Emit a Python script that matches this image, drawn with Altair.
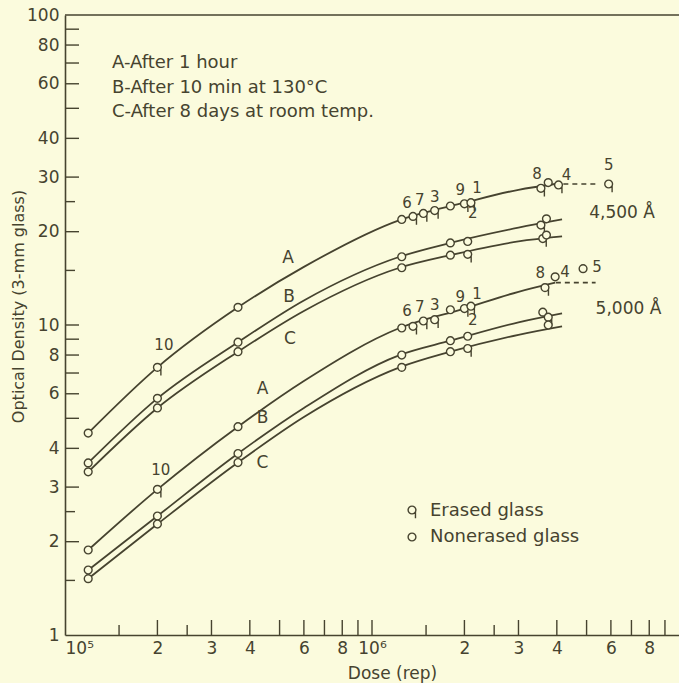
import altair as alt
import pandas as pd

BG = "#fbfbdd"
INK = "#46432f"
FONT = "DejaVu Sans"

# ---------------- data ----------------
curve_ids = ["4500A", "4500B", "4500C", "5000A", "5000B", "5000C"]
curve_dose_A = [1.19e5, 2.0e5, 3.66e5, 6.0e5, 1.23e6, 2.0e6, 3.0e6, 3.95e6]
curve_dose_BC = [1.19e5, 2.0e5, 3.66e5, 6.0e5, 1.23e6, 1.8e6, 3.0e6, 4.16e6]
od_4500A = [4.48, 7.3, 11.4, 15.4, 21.8, 24.8, 27.3, 28.5]
od_4500B = [3.59, 5.8, 8.8, 12.0, 16.6, 18.4, 20.6, 21.9]
od_4500C = [3.36, 5.4, 8.2, 11.1, 15.3, 16.8, 18.6, 19.3]
od_5000A = [1.88, 2.95, 4.7, 6.6, 9.78, 11.3, 12.8, 13.7]
od_5000B = [1.62, 2.42, 3.85, 5.4, 8.0, 8.9, 10.2, 10.9]
od_5000C = [1.52, 2.28, 3.6, 5.05, 7.3, 8.2, 9.3, 9.9]

dash_group = ["4500", "4500", "5000", "5000"]
dash_dose = [4.2e6, 5.45e6, 3.97e6, 5.35e6]
dash_od = [28.5, 28.5, 13.7, 13.7]

E, N = "Erased glass", "Nonerased glass"
mk_dose = [
    1.19e5, 2.0e5, 3.66e5, 1.25e6, 1.36e6, 1.47e6, 1.60e6, 1.80e6, 2.0e6, 2.1e6, 3.55e6, 3.75e6, 4.05e6, 5.9e6,
    1.19e5, 2.0e5, 3.66e5, 1.25e6, 1.8e6, 2.05e6, 3.55e6, 3.7e6,
    1.19e5, 2.0e5, 3.66e5, 1.25e6, 1.8e6, 2.05e6, 3.6e6, 3.7e6,
    1.19e5, 2.0e5, 3.66e5, 1.25e6, 1.36e6, 1.47e6, 1.60e6, 1.80e6, 2.0e6, 2.1e6, 3.66e6, 3.95e6, 4.87e6,
    1.19e5, 2.0e5, 3.66e5, 1.25e6, 1.8e6, 2.05e6, 3.6e6, 3.75e6,
    1.19e5, 2.0e5, 3.66e5, 1.25e6, 1.8e6, 2.05e6, 3.75e6,
]
mk_od = [
    4.48, 7.3, 11.4, 21.9, 22.4, 22.9, 23.4, 24.2, 24.6, 24.8, 27.6, 28.8, 28.3, 28.5,
    3.59, 5.8, 8.8, 16.6, 18.4, 18.6, 21.0, 22.0,
    3.36, 5.4, 8.2, 15.3, 16.8, 16.9, 19.0, 19.5,
    1.88, 2.95, 4.7, 9.78, 9.9, 10.3, 10.4, 11.2, 11.3, 11.5, 13.2, 14.3, 15.2,
    1.62, 2.42, 3.85, 8.0, 8.9, 9.2, 11.0, 10.6,
    1.52, 2.28, 3.6, 7.3, 8.2, 8.4, 10.0,
]
mk_glass = [
    N, E, N, N, E, E, E, N, E, E, E, N, E, E,
    N, N, N, N, N, N, E, N,
    N, N, N, N, N, E, E, N,
    N, E, N, N, E, E, E, N, E, E, E, N, N,
    N, N, N, N, N, N, N, E,
    N, N, N, N, N, E, N,
]

num_text = ["10", "6", "7", "3", "9", "1", "2", "8", "4", "5",
            "10", "6", "7", "3", "9", "1", "2", "8", "4", "5"]
num_dose = [2.1e5, 1.30e6, 1.43e6, 1.60e6, 1.94e6, 2.2e6, 2.13e6, 3.45e6, 4.3e6, 5.9e6,
            2.05e5, 1.30e6, 1.43e6, 1.60e6, 1.94e6, 2.2e6, 2.13e6, 3.53e6, 4.25e6, 5.41e6]
num_od = [8.6, 24.7, 25.3, 25.9, 27.2, 27.6, 23.0, 30.6, 30.5, 32.8,
          3.4, 11.1, 11.4, 11.6, 12.3, 12.6, 10.4, 14.7, 14.8, 15.4]

letter_text = ["A", "B", "C", "A", "B", "C"]
letter_dose = [5.33e5, 5.37e5, 5.4e5, 4.4e5, 4.4e5, 4.4e5]
letter_od = [16.4, 12.3, 9.0, 6.2, 5.0, 3.6]

group_text = ["4,500 Å", "5,000 Å"]
group_dose = [5.1e6, 5.35e6]
group_od = [22.9, 11.3]

notes = ["A-After 1 hour", "B-After 10 min at 130°C", "C-After 8 days at room temp."]
legend_labels = [E, N]

x_label_values = [1e5, 2e5, 3e5, 4e5, 6e5, 8e5, 1e6, 2e6, 3e6, 4e6, 6e6, 8e6]
y_label_values = [1, 2, 3, 4, 6, 8, 10, 20, 30, 40, 60, 80, 100]
x_major_ticks = [2e5, 3e5, 4e5, 5e5, 6e5, 7e5, 8e5, 9e5, 1e6, 2e6, 3e6, 4e6, 5e6, 6e6, 7e6, 8e6, 9e6]
x_minor_ticks = [1.5e5, 2.5e5, 1.5e6, 2.5e6]
y_major_ticks = [2, 3, 4, 5, 6, 7, 8, 9, 10, 20, 30, 40, 50, 60, 70, 80, 90]
y_minor_ticks = [1.5, 2.5, 15, 25]

# ---------------- tables ----------------
curve_od = [od_4500A, od_4500B, od_4500C, od_5000A, od_5000B, od_5000C]
rows = []
for cid, ods in zip(curve_ids, curve_od):
    doses = curve_dose_A if cid.endswith("A") else curve_dose_BC
    for d, v in zip(doses, ods):
        rows.append({"curve": cid, "dose": d, "od": v})
curves_df = pd.DataFrame(rows)
dash_df = pd.DataFrame({"grp": dash_group, "dose": dash_dose, "od": dash_od})
marks_df = pd.DataFrame({"dose": mk_dose, "od": mk_od, "glass": mk_glass})
num_df = pd.DataFrame({"t": num_text, "dose": num_dose, "od": num_od})
letter_df = pd.DataFrame({"t": letter_text, "dose": letter_dose, "od": letter_od})
group_df = pd.DataFrame({"t": group_text, "dose": group_dose, "od": group_od})

W, H = 614, 620
X_SCALE = alt.Scale(type="log", domain=[1e5, 1e7], nice=False)
Y_SCALE = alt.Scale(type="log", domain=[1, 100], nice=False)

x_axis = alt.Axis(
    values=x_label_values,
    labelExpr="datum.value == 100000 ? '10⁵' : (datum.value == 1000000 ? '10⁶' : "
              "(datum.value > 1000000 ? format(datum.value / 1000000, 'd') : format(datum.value / 100000, 'd')))",
    labelAlign={"expr": "datum.value == 100000 ? 'left' : 'center'"},
    ticks=False, grid=False, domainColor=INK, domainWidth=1.6,
    labelFont=FONT, labelFontSize=17, labelColor=INK, labelPadding=5, labelFlush=False,
    labelOverlap=False,
    title="Dose (rep)", titleFont=FONT, titleFontSize=17, titleFontWeight="normal", titleColor=INK,
    titleX=327, titleY=38, titleBaseline="middle", titleAlign="center",
)
y_axis = alt.Axis(
    values=y_label_values, format="d",
    ticks=False, grid=False, domainColor=INK, domainWidth=1.6,
    labelFont=FONT, labelFontSize=17, labelColor=INK, labelPadding=6, labelFlush=False,
    labelOverlap=False,
    title="Optical Density (3-mm glass)", titleFont=FONT, titleFontSize=16, titleFontWeight="normal",
    titleColor=INK, titleX=-47, titleY=291, titleAngle=-90, titleBaseline="middle", titleAlign="center",
)


def X():
    return alt.X("dose:Q", scale=X_SCALE, axis=x_axis)


def Y():
    return alt.Y("od:Q", scale=Y_SCALE, axis=y_axis)


Q_PATH = ("M -0.45 0 A 0.45 0.45 0 1 0 0.45 0 A 0.45 0.45 0 1 0 -0.45 0 Z "
          "M 0.4 0.21 L 0.4 0.95")
O_PATH = "M -0.45 0 A 0.45 0.45 0 1 0 0.45 0 A 0.45 0.45 0 1 0 -0.45 0 Z"

lines = alt.Chart(curves_df).mark_line(interpolate="monotone", color=INK, strokeWidth=1.8).encode(
    x=X(), y=Y(), detail="curve:N")

dashes = alt.Chart(dash_df).mark_line(color=INK, strokeWidth=1.6, strokeDash=[5, 4]).encode(
    x=X(), y=Y(), detail="grp:N")

points = alt.Chart(marks_df).mark_point(
    filled=True, fill=BG, stroke=INK, strokeWidth=1.4, size=300, opacity=1).encode(
    x=X(), y=Y(),
    shape=alt.Shape("glass:N", scale=alt.Scale(domain=[E, N], range=[Q_PATH, O_PATH]), legend=None))

nums = alt.Chart(num_df).mark_text(font=FONT, fontSize=15, color=INK).encode(
    x=X(), y=Y(), text="t:N")

letters = alt.Chart(letter_df).mark_text(font=FONT, fontSize=17, color=INK).encode(
    x=X(), y=Y(), text="t:N")

groups = alt.Chart(group_df).mark_text(font=FONT, fontSize=17, color=INK, align="left").encode(
    x=X(), y=Y(), text="t:N")

x_major = alt.Chart(pd.DataFrame({"dose": x_major_ticks})).mark_rule(color=INK, strokeWidth=1.4).encode(
    x=X(), y=alt.value(H), y2=alt.value(H - 15))
x_minor = alt.Chart(pd.DataFrame({"dose": x_minor_ticks})).mark_rule(color=INK, strokeWidth=1.4).encode(
    x=X(), y=alt.value(H), y2=alt.value(H - 10))
y_major = alt.Chart(pd.DataFrame({"od": y_major_ticks})).mark_rule(color=INK, strokeWidth=1.4).encode(
    y=Y(), x=alt.value(0), x2=alt.value(14))
y_minor = alt.Chart(pd.DataFrame({"od": y_minor_ticks})).mark_rule(color=INK, strokeWidth=1.4).encode(
    y=Y(), x=alt.value(0), x2=alt.value(10))

top_border = alt.Chart(pd.DataFrame({"k": [0]})).mark_rule(color=INK, strokeWidth=1.6).encode(
    x=alt.value(0), x2=alt.value(W), y=alt.value(0))

note_text = alt.Chart(pd.DataFrame({"k": [0]})).mark_text(
    font=FONT, fontSize=18, color=INK, align="left", baseline="top", lineHeight=24.5,
    text=notes).encode(x=alt.value(47), y=alt.value(39))

# manual legend (erased / nonerased)
leg_q = alt.Chart(pd.DataFrame({"k": [0]})).mark_point(
    shape=Q_PATH, filled=True, fill=BG, stroke=INK, strokeWidth=1.4, size=300, opacity=1).encode(
    x=alt.value(347), y=alt.value(495))
leg_o = alt.Chart(pd.DataFrame({"k": [0]})).mark_point(
    shape=O_PATH, filled=True, fill=BG, stroke=INK, strokeWidth=1.4, size=300, opacity=1).encode(
    x=alt.value(347), y=alt.value(522))
leg_t1 = alt.Chart(pd.DataFrame({"k": [0]})).mark_text(
    font=FONT, fontSize=18, color=INK, align="left", baseline="middle", text=legend_labels[0]).encode(
    x=alt.value(365), y=alt.value(496))
leg_t2 = alt.Chart(pd.DataFrame({"k": [0]})).mark_text(
    font=FONT, fontSize=18, color=INK, align="left", baseline="middle", text=legend_labels[1]).encode(
    x=alt.value(365), y=alt.value(522))

chart = alt.layer(
    x_major, x_minor, y_major, y_minor, top_border, lines, dashes, points, nums, letters, groups,
    note_text, leg_q, leg_o, leg_t1, leg_t2
).properties(
    width=W, height=H,
    padding={"left": 65, "top": 15, "right": 0, "bottom": 48},
    autosize=alt.AutoSizeParams(type="none"),
    background=BG,
).configure_view(strokeWidth=0)

chart.save("out.html", embed_options={"renderer": "svg", "actions": False})
